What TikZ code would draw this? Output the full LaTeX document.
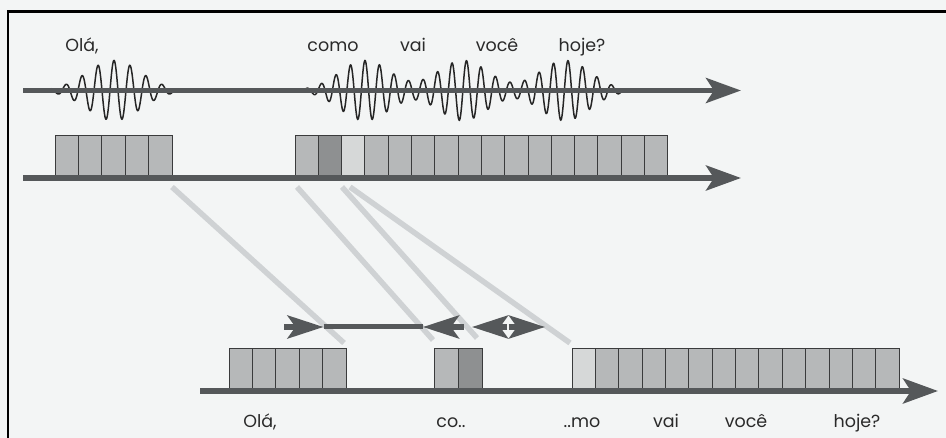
\documentclass[tikz,border=0pt]{standalone}
\usepackage{fontspec}
\setmainfont{Poppins}
\usetikzlibrary{arrows.meta}

\definecolor{paper}{HTML}{F3F5F5}
\definecolor{axis}{HTML}{55585A}
\definecolor{cellmid}{HTML}{B6B8B9}
\definecolor{celldark}{HTML}{8E9091}
\definecolor{celllight}{HTML}{D6D8D8}
\definecolor{celledge}{HTML}{3A3B3C}
\definecolor{band}{HTML}{CFD2D4}
\definecolor{ink}{HTML}{2A2A2A}

\begin{document}
\begin{tikzpicture}[x=1pt,y=-1pt,
  axisline/.style={draw=axis, line width=5.5pt},
  bigtip/.style={-{Stealth[length=35pt,width=25pt,inset=8pt]}},
  smalltip/.style={-{Stealth[length=36pt,width=23pt,inset=8pt]}},
  stem/.style={draw=axis, line width=5.5pt},
  cell/.style={draw=celledge, line width=0.9pt, minimum height=39.5pt,
    minimum width=#1, inner sep=0pt, outer sep=0pt, anchor=south west},
  word/.style={font=\fontsize{17.5}{17.5}\selectfont, text=ink, anchor=base, inner sep=0pt},
  wave/.style={draw=black!85, line width=1.5pt},
  link/.style={draw=band, line width=5.5pt}]

% page and frame
\fill[paper] (0,0) rectangle (946,438);
\useasboundingbox (0,0) rectangle (946,438);
\draw[black, line width=2.5pt] (7.8,438) -- (7.8,11.3) -- (946,11.3);

% time axes
\coordinate (ax1s) at (23,90.5);  \coordinate (ax1e) at (741,90.5);
\coordinate (ax2s) at (23,178);   \coordinate (ax2e) at (741,178);
\coordinate (ax3s) at (200,391);  \coordinate (ax3e) at (938,391);

% links between the packet streams
\coordinate (b1s) at (172,187); \coordinate (b1e) at (344,343);
\coordinate (b2s) at (297,187); \coordinate (b2e) at (433,340);
\coordinate (b3s) at (342,187); \coordinate (b3e) at (477,338);
\coordinate (b4s) at (350,187); \coordinate (b4e) at (570,343);
\foreach \k in {1,2,3,4} \draw[link] (b\k s) -- (b\k e);

% speech waveform (carrier periods 16pt and 14.5pt)
\draw[wave] plot[domain=51:172, samples=400]
  (\x, {90.5 - 30*exp(-((\x-114)/38)^2)*cos(22.5*(\x-114))});
\draw[wave] plot[domain=306:625, samples=900]
  (\x, {90.5 - 30*(exp(-min(((\x-365)/36)^2,20))+exp(-min(((\x-463)/36)^2,20))+exp(-min(((\x-565)/36)^2,20)))*cos(24.83*(\x-365))});

\draw[axisline, bigtip] (ax1s) -- (ax1e);

% sent packets
\foreach \i in {0,...,4}
  \node[cell=23.4pt, fill=cellmid] (s1-\i) at ({55+23.4*\i},175) {};
\foreach \i/\c in {0/cellmid,1/celldark,2/celllight,3/cellmid,4/cellmid,5/cellmid,
  6/cellmid,7/cellmid,8/cellmid,9/cellmid,10/cellmid,11/cellmid,12/cellmid,
  13/cellmid,14/cellmid,15/cellmid}
  \node[cell=23.3pt, fill=\c] (s2-\i) at ({295+23.3*\i},175) {};
\draw[axisline, bigtip] (ax2s) -- (ax2e);

% received packets
\foreach \i in {0,...,4}
  \node[cell=23.4pt, fill=cellmid] (r1-\i) at ({229+23.4*\i},388) {};
\node[cell=24pt, fill=cellmid] (r2-0) at (434,388) {};
\node[cell=24pt, fill=celldark] (r2-1) at (458,388) {};
\foreach \i/\c in {0/celllight,1/cellmid,2/cellmid,3/cellmid,4/cellmid,5/cellmid,
  6/cellmid,7/cellmid,8/cellmid,9/cellmid,10/cellmid,11/cellmid,12/cellmid,13/cellmid}
  \node[cell=23.36pt, fill=\c] (r3-\i) at ({572+23.36*\i},388) {};
\draw[axisline, bigtip] (ax3s) -- (ax3e);

% delay and jitter markers
\coordinate (d1s) at (284,327);   \coordinate (d1e) at (323.5,327);
\coordinate (d2s) at (464,327);   \coordinate (d2e) at (423,327);
\coordinate (j1s) at (507.3,327); \coordinate (j1e) at (472,327);
\coordinate (j2s) at (508.7,327); \coordinate (j2e) at (545,327);
\draw[stem, line width=5pt] (d1e) -- (d2e);
\draw[stem, smalltip] (d1s) -- (d1e);
\draw[stem, smalltip] (d2s) -- (d2e);
\draw[stem, smalltip] (j1s) -- (j1e);
\draw[stem, smalltip] (j2s) -- (j2e);

% words
\node[word] (w1) at (82,52) {Olá,};
\node[word] (w2) at (333,52) {como};
\node[word] (w3) at (413,52) {vai};
\node[word] (w4) at (497,52) {você};
\node[word] (w5) at (582,52) {hoje?};

\node[word] (v1) at (260,428) {Olá,};
\node[word] (v2) at (451,428) {co..};
\node[word] (v3) at (582,428) {..mo};
\node[word] (v4) at (666,428) {vai};
\node[word] (v5) at (746,428) {você};
\node[word] (v6) at (857,428) {hoje?};
\end{tikzpicture}
\end{document}
